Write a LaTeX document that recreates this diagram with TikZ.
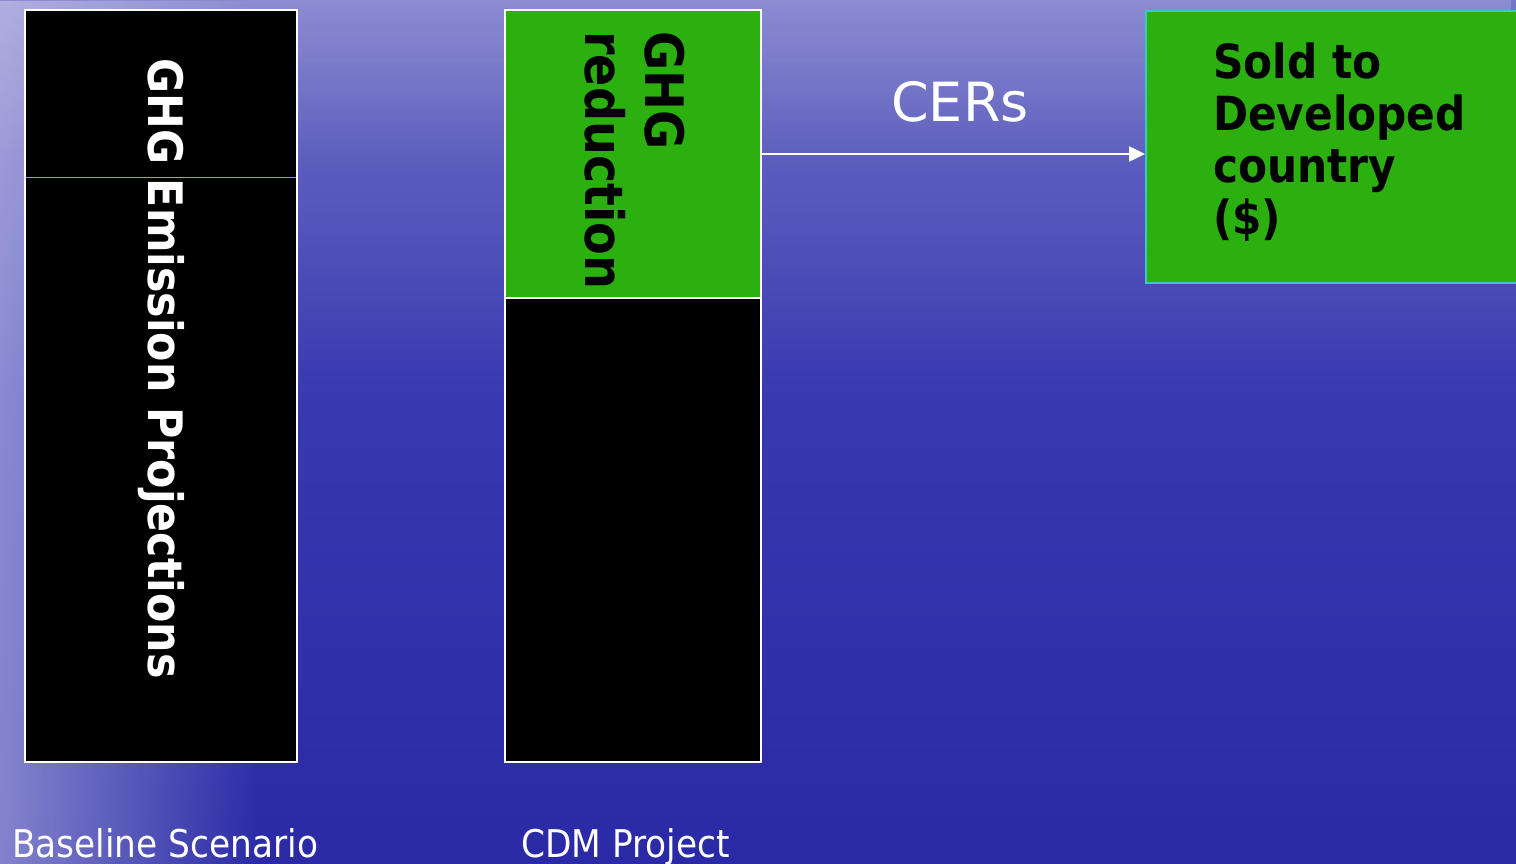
\documentclass[tikz,border=0pt]{standalone}
\usepackage{fontspec}
\setmainfont{DejaVu Sans}
\newfontfamily\condf{DejaVu Sans Condensed}
\usetikzlibrary{arrows.meta,fadings}
\definecolor{bgtop}{RGB}{118,118,200}
\definecolor{bgmid}{RGB}{56,56,176}
\definecolor{bgbot}{RGB}{42,42,166}
\definecolor{bglight}{RGB}{205,205,238}
\definecolor{ghggreen}{RGB}{44,176,16}
\definecolor{cyanedge}{RGB}{56,200,200}
\definecolor{divline}{RGB}{150,150,230}
\tikzset{
  barbox/.style={draw=white, line width=2pt, anchor=north west, inner sep=0pt, outer sep=0pt},
  whitelabel/.style={text=white, inner sep=0pt},
  arrowline/.style={draw=white, line width=2.5pt, -{Triangle[length=16pt,width=15pt]}}
}
\begin{document}
\begin{tikzpicture}[x=1pt,y=-1pt]
\useasboundingbox (0,0) rectangle (1516,864);
\clip (0,0) rectangle (1516,864);
% background
\shade[top color=bgtop, bottom color=bgmid] (0,0) rectangle (1516,401);
\shade[top color=bgmid, bottom color=bgbot] (0,400) rectangle (1516,864);
\fill[bglight, opacity=0.55, path fading=east] (0,0) rectangle (260,864);
\fill[bglight, opacity=0.25, path fading=south] (0,0) rectangle (1516,160);
% baseline bar
\node[barbox, fill=black, minimum width=272pt, minimum height=752pt] (base) at (25,10) {};
\coordinate (divL) at (26,178);
\coordinate (divR) at (296,178);
\draw[divline, line width=1pt] (divL) -- (divR);
\node[whitelabel, rotate=-90, anchor=base west, font=\condf\bfseries\fontsize{47.5}{56}\selectfont] (ghgE) at (148,58) {GHG Emission Projections};
% CDM bars
\node[barbox, fill=black, minimum width=256pt, minimum height=464pt] (cdmbot) at (505,298) {};
\node[barbox, fill=ghggreen, minimum width=256pt, minimum height=288pt] (cdmtop) at (505,10) {};
\node[rotate=-90, anchor=north west, align=left, inner sep=0pt, font=\condf\bfseries\fontsize{53}{60}\selectfont] (red) at (685,31) {GHG\\reduction};
% sold box
\node[draw=cyanedge, line width=2pt, fill=ghggreen, anchor=north west, minimum width=390pt, minimum height=272pt, inner sep=0pt] (sold) at (1145,10) {};
\node[anchor=north west, align=left, inner sep=0pt, font=\condf\bfseries\fontsize{47}{52}\selectfont] (soldtxt) at (1213,43) {Sold to\\Developed\\country\\(\$)};
% arrow
\draw[arrowline] (cdmtop.east) -- (sold.west |- cdmtop.east);
\node[whitelabel, anchor=base, font=\fontsize{54}{60}\selectfont] (cers) at (960,122) {CERs};
% bottom labels
\node[whitelabel, anchor=base west, font=\condf\fontsize{38.2}{42}\selectfont] (lbase) at (12,857) {Baseline Scenario};
\node[whitelabel, anchor=base west, font=\condf\fontsize{38.2}{42}\selectfont] (lcdm) at (521,857) {CDM Project};
\end{tikzpicture}
\end{document}
